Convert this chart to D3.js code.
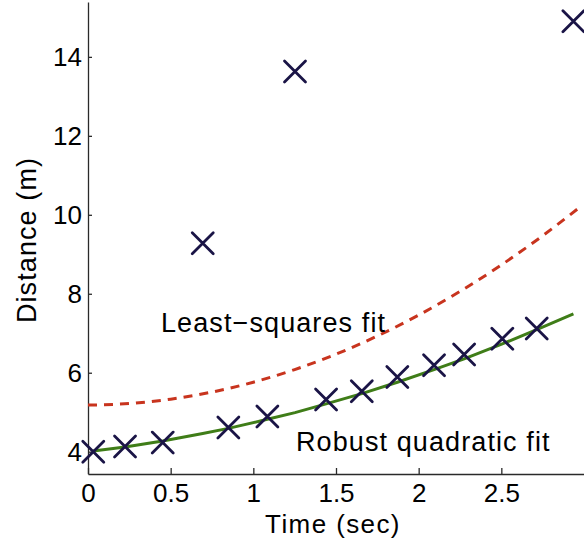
<!DOCTYPE html>
<html>
<head>
<meta charset="utf-8">
<script src="https://cdn.jsdelivr.net/npm/d3@7/dist/d3.min.js"></script>
<style>
  html, body { margin: 0; padding: 0; background: #fff; }
  svg { display: block; font-family: "Liberation Sans", Arial, Helvetica, sans-serif; }
</style>
</head>
<body>
<svg id="chart" width="584" height="546"></svg>
<script>
// Measured samples: time (s) and distance (m)
const times     = [0.032, 0.224, 0.452, 0.694, 0.849, 1.085, 1.252, 1.440, 1.656, 1.871, 2.093, 2.275, 2.506, 2.714, 2.936];
const distances = [4.00, 4.13, 4.23, 9.28, 4.61, 4.89, 13.63, 5.32, 5.53, 5.89, 6.19, 6.46, 6.86, 7.12, 14.90];

// Robust quadratic fit, evaluated at the sample times
const robustFit = [4.02, 4.12, 4.27, 4.46, 4.59, 4.82, 4.99, 5.21, 5.47, 5.76, 6.08, 6.35, 6.73, 7.09, 7.49];

// Least-squares quadratic fit, evaluated on a grid of times
const lsTimes = [0, 0.25, 0.5, 0.75, 1.0, 1.25, 1.5, 1.75, 2.0, 2.25, 2.5, 2.75, 2.98];
const lsFit   = [5.18, 5.22, 5.33, 5.51, 5.76, 6.08, 6.47, 6.93, 7.46, 8.06, 8.73, 9.47, 10.21];

// Axis ticks
const xTicks = [0, 0.5, 1, 1.5, 2, 2.5];
const yTicks = [4, 6, 8, 10, 12, 14];

const svg = d3.select("#chart");

const x = d3.scaleLinear().domain([0, 3]).range([88, 584]);
const y = d3.scaleLinear().domain([3.435, 15.39]).range([474, 2]);

const axisColor = "#2a2a2a";

// Axes with inward ticks
const xAxis = d3.axisBottom(x)
  .tickValues(xTicks)
  .tickFormat(d3.format("~g"))
  .tickSizeInner(-6).tickSizeOuter(0).tickPadding(10);
const yAxis = d3.axisLeft(y)
  .tickValues(yTicks)
  .tickFormat(d3.format("~g"))
  .tickSizeInner(-4).tickSizeOuter(0).tickPadding(6);

const gx = svg.append("g").attr("transform", "translate(0,474)").call(xAxis);
const gy = svg.append("g").attr("transform", "translate(88,0)").call(yAxis);

[gx, gy].forEach(g => {
  g.select(".domain").attr("stroke", axisColor).attr("stroke-width", 1.3);
  g.selectAll(".tick line").attr("stroke", axisColor).attr("stroke-width", 1.3);
  g.selectAll(".tick text")
    .attr("fill", "#000")
    .style("font-family", "'Liberation Sans', Arial, Helvetica, sans-serif");
});
gx.selectAll(".tick text").style("font-size", "26px");
gy.selectAll(".tick text").style("font-size", "26px").attr("dy", "0.35em");

// Least-squares fit (dashed red)
const lsLine = d3.line().x((d, i) => x(lsTimes[i])).y(d => y(d)).curve(d3.curveMonotoneX);
svg.append("path")
  .datum(lsFit)
  .attr("d", lsLine)
  .attr("fill", "none")
  .attr("stroke", "#c8341e")
  .attr("stroke-width", 3)
  .attr("stroke-dasharray", "9,7");

// Robust fit (solid green)
const robustLine = d3.line().x((d, i) => x(times[i])).y(d => y(d));
svg.append("path")
  .datum(robustFit)
  .attr("d", robustLine)
  .attr("fill", "none")
  .attr("stroke", "#3f7d18")
  .attr("stroke-width", 3);

// Sample markers (crosses)
const half = 10.5;
const marks = svg.append("g")
  .attr("stroke", "#1a1446")
  .attr("stroke-width", 2.8)
  .attr("stroke-linecap", "round");
marks.selectAll("path")
  .data(times.map((t, i) => [t, distances[i]]))
  .join("path")
  .attr("d", d => {
    const cx = x(d[0]), cy = y(d[1]);
    return `M${cx - half},${cy - half}L${cx + half},${cy + half}M${cx - half},${cy + half}L${cx + half},${cy - half}`;
  });

// Annotations
const textStyle = sel => sel
  .attr("fill", "#000")
  .style("font-size", "27px")
  .style("letter-spacing", "1.1px");

svg.append("text").attr("x", 161).attr("y", 332).text("Least\u2212squares fit").call(textStyle);
svg.append("text").attr("x", 296).attr("y", 451).text("Robust quadratic fit").call(textStyle);

// Axis titles
svg.append("text").attr("x", 333).attr("y", 533).attr("text-anchor", "middle")
  .text("Time (sec)").call(textStyle)
  .style("font-size", "26px").style("letter-spacing", "1.4px");
svg.append("text")
  .attr("transform", "translate(36,240) rotate(-90)")
  .attr("text-anchor", "middle")
  .text("Distance (m)").call(textStyle);
</script>
</body>
</html>
